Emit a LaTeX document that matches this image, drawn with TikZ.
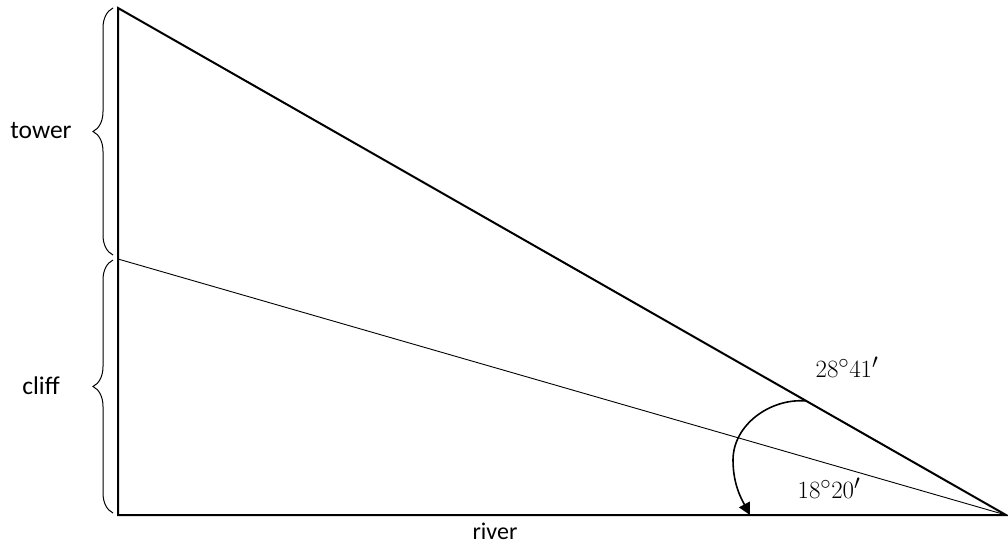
\documentclass[tikz,border=0pt]{standalone}
\usepackage{fontspec}
\setsansfont{Carlito}
\usetikzlibrary{decorations.pathreplacing,arrows.meta,calc}
\begin{document}
\begin{tikzpicture}[x=1pt,y=-1pt,
  thick line/.style={line width=2pt},
  thin line/.style={line width=0.9pt},
  bracestyle/.style={line width=1pt,decorate,decoration={brace,amplitude=20pt,aspect=0.5,mirror}},
  lbl/.style={font=\sffamily\fontsize{25.5}{30}\selectfont,inner sep=0pt},
  ang/.style={font=\fontsize{28}{33}\selectfont,inner sep=0pt}]
\useasboundingbox (0,0) rectangle (1008,549);
\coordinate (A) at (118,8);
\coordinate (B) at (118,259);
\coordinate (C) at (118,515);
\coordinate (D) at (1006,515);
\draw[thick line] (A) -- (C) -- (D) -- cycle;
\draw[thin line] (B) -- (D);
\draw[bracestyle] (113,8) -- (113,255);
\draw[bracestyle] (113,260) -- (113,513);
\node[lbl] (tw) at (41,131) {tower};
\node[lbl] (cf) at (41,386) {cliff};
\node[lbl,font=\sffamily\fontsize{24}{28}\selectfont] (rv) at (495,531) {river};
\coordinate (P) at ($(A)!0.775!(D)$);
\coordinate (Q) at (750,515);
\draw[line width=1.6pt,-{Triangle[length=12pt,width=12pt]}] (P) .. controls (770,398) and (733,425) .. (733,460) .. controls (733,485) and (742,500) .. (Q);
\node[ang] (a1) at (847,367) {$28^\circ41'$};
\node[ang] (a2) at (829,488) {$18^\circ20'$};
\end{tikzpicture}
\end{document}
